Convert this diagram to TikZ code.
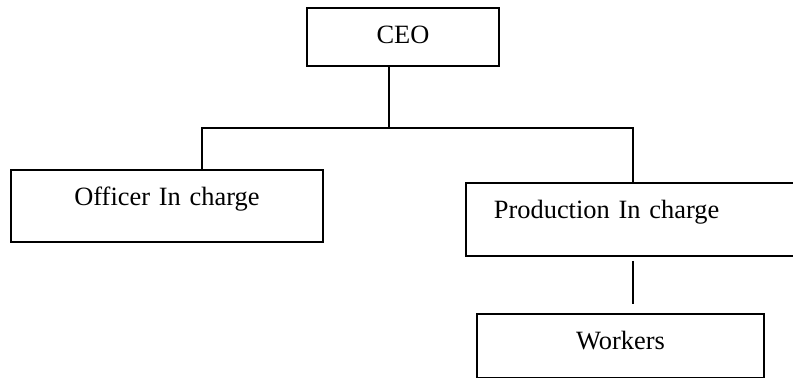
\documentclass[tikz,border=0pt]{standalone}
\usepackage{fontspec}
\setmainfont{Liberation Serif}
\usepackage{tikz}
\usetikzlibrary{positioning}
\tikzset{
    org-box/.style = {draw=black, line width=1.4pt, rectangle, anchor=north west, inner xsep=0pt, inner ysep=0pt, text height=27pt, align=center},
    org-line/.style = {draw=black, line width=1.4pt},
}

\begin{document}
\begin{tikzpicture}[x=0.75pt, y=-0.75pt, font=\fontsize{19.8}{24}\selectfont]
\useasboundingbox (0,0) rectangle (793,378);
\clip (0,0) rectangle (793,378);
\node [org-box, text width=144pt, text depth=16.5pt] (ceo) at (306,7) {CEO};
\node [org-box, text width=234pt, text depth=27pt] (officer) at (10,169) {Officer In charge};
\node [org-box, inner xsep=21pt, text width=224pt, text depth=27.75pt, align=left] (production) at (465,182) {Production In charge};
\node [org-box, text width=215.25pt, text depth=21pt] (workers) at (476,313) {Workers};
\coordinate (hub) at (389,128);
\coordinate (lt) at (202,128);
\coordinate (rt) at (633,128);
\draw [org-line] (ceo.south -| hub) -- (hub);
\draw [org-line] (officer.north -| lt) |- (rt) -- (production.north -| rt);
\draw [org-line, shorten <=3pt, shorten >=6.75pt] (production.south -| rt) -- (workers.north -| rt);
\end{tikzpicture}
\end{document}
